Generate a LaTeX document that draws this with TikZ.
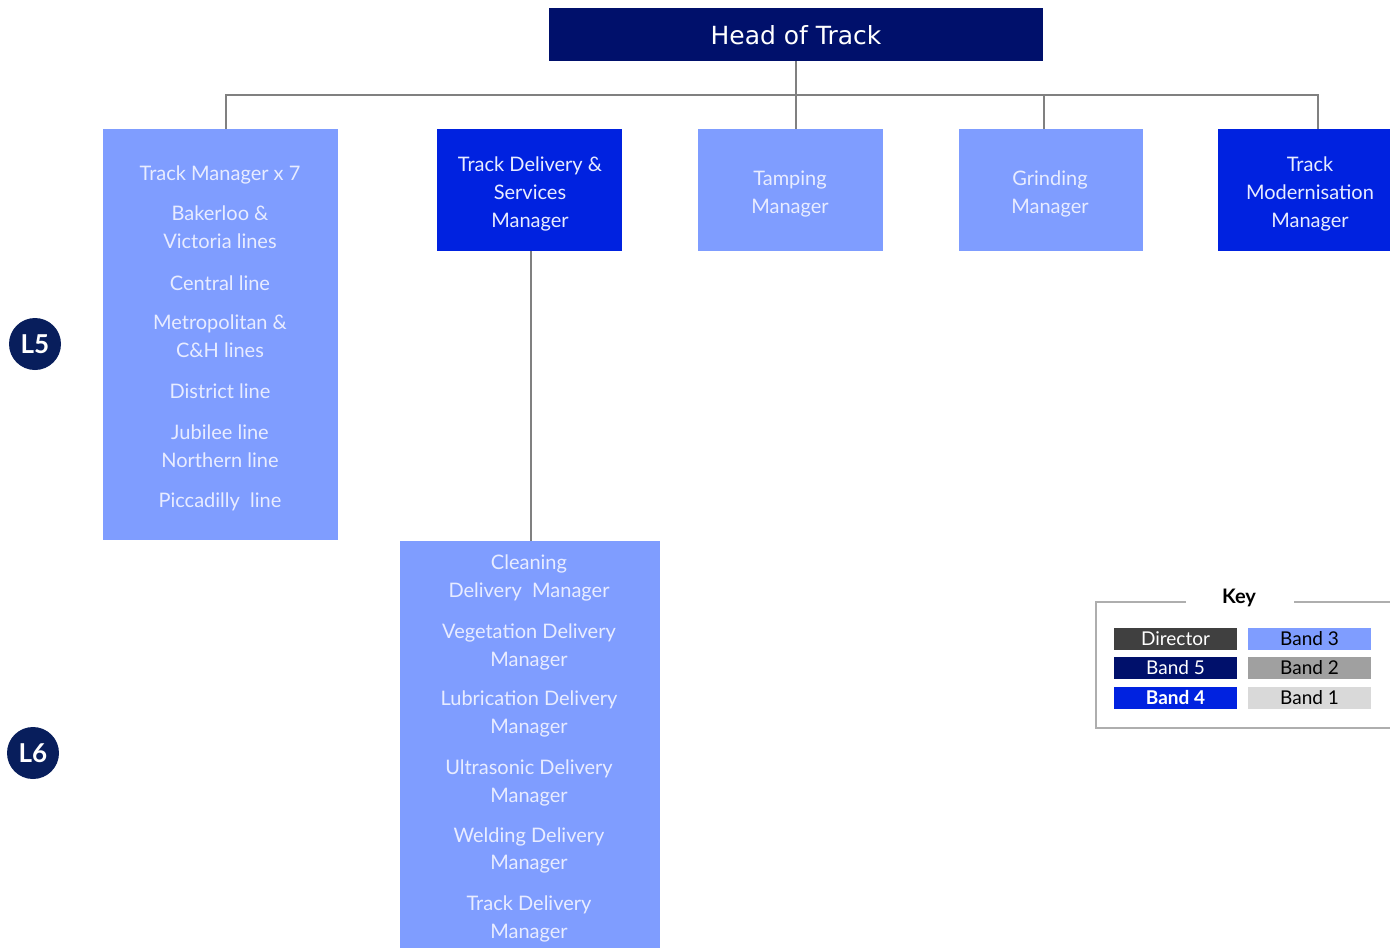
\documentclass[tikz,border=0pt]{standalone}
\usepackage{fontspec}
\setmainfont{Lato}
\newfontfamily\headfont{DejaVu Sans}
\definecolor{navy}{RGB}{0,16,107}
\definecolor{bandfour}{RGB}{0,34,224}
\definecolor{bandthree}{RGB}{127,157,255}
\definecolor{lighttxt}{RGB}{232,236,255}
\definecolor{circ}{RGB}{8,30,92}
\definecolor{dirgray}{RGB}{64,64,64}
\definecolor{bandtwo}{RGB}{160,160,160}
\definecolor{bandone}{RGB}{217,217,217}
\definecolor{conn}{RGB}{128,128,128}
\tikzset{
  box/.style={draw=none, inner sep=0pt},
  txt/.style={text=lighttxt, font=\fontsize{10}{12}\selectfont, inner sep=0pt, anchor=center, text height=8.5pt, text depth=1.3pt},
  keybox/.style={inner sep=0pt, minimum width=61.5pt, minimum height=11pt, text height=8pt, text depth=1.5pt, font=\fontsize{9.5}{11}\selectfont},
  lvl/.style={circle, fill=circ, minimum size=26pt, inner sep=0pt, text=white, font=\bfseries\fontsize{13}{14}\selectfont},
  line/.style={draw=conn, line width=0.75pt}
}
\begin{document}
\begin{tikzpicture}[x=0.5pt,y=-0.5pt]
\useasboundingbox (0,0) rectangle (1390,948);
% boxes
\fill[navy] (549,8) rectangle (1043,61);
\node[box] (head) at (796,34.5) {};
\node[text=white, font=\headfont\fontsize{12.5}{14}\selectfont, inner sep=0pt, text height=11pt, text depth=1.5pt] (headt) at (796,35) {Head of Track};
\fill[bandthree] (103,129) rectangle (338,540);
\fill[bandfour] (437,129) rectangle (622,251);
\fill[bandthree] (698,129) rectangle (883,251);
\fill[bandthree] (959,129) rectangle (1143,251);
\fill[bandfour] (1218,129) rectangle (1390,251);
\fill[bandthree] (400,541) rectangle (660,948);
\coordinate (hb) at (796,61);
\coordinate (b1) at (226,129);
\coordinate (b2b) at (531,251);
\coordinate (b3) at (796,129);
\coordinate (b4) at (1044,129);
\coordinate (b5) at (1318,129);
\coordinate (b6) at (531,541);
% connectors
\draw[line] (hb) -- (b3);
\draw[line] (b1) |- (796,95) -| (b5);
\draw[line] (b4) -- (1044,95);
\draw[line] (b2b) -- (b6);
% box 1 text
\node[txt] (t1a) at (220,173) {Track Manager x 7};
\node[txt] (t1b) at (220,213) {Bakerloo \&};
\node[txt] (t1c) at (220,241) {Victoria lines};
\node[txt] (t1d) at (220,283) {Central line};
\node[txt] (t1e) at (220,322) {Metropolitan \&};
\node[txt] (t1f) at (220,350) {C\&H lines};
\node[txt] (t1g) at (220,391) {District line};
\node[txt] (t1h) at (220,432) {Jubilee line};
\node[txt] (t1i) at (220,460) {Northern line};
\node[txt] (t1j) at (220,500) {Piccadilly\ \ line};
% box 2
\node[txt] (t2a) at (530,164) {Track Delivery \&};
\node[txt] (t2b) at (530,192) {Services};
\node[txt] (t2c) at (530,220) {Manager};
% box 3
\node[txt] (t3a) at (790,178) {Tamping};
\node[txt] (t3b) at (790,206) {Manager};
% box 4
\node[txt] (t4a) at (1050,178) {Grinding};
\node[txt] (t4b) at (1050,206) {Manager};
% box 5
\node[txt] (t5a) at (1310,164) {Track};
\node[txt] (t5b) at (1310,192) {Modernisation};
\node[txt] (t5c) at (1310,220) {Manager};
% box 6
\node[txt] (t6a) at (529,562) {Cleaning};
\node[txt] (t6b) at (529,590) {Delivery\ \ Manager};
\node[txt] (t6c) at (529,631) {Vegetation Delivery};
\node[txt] (t6d) at (529,659) {Manager};
\node[txt] (t6e) at (529,698) {Lubrication Delivery};
\node[txt] (t6f) at (529,726) {Manager};
\node[txt] (t6g) at (529,767) {Ultrasonic Delivery};
\node[txt] (t6h) at (529,795) {Manager};
\node[txt] (t6i) at (529,835) {Welding Delivery};
\node[txt] (t6j) at (529,862) {Manager};
\node[txt] (t6k) at (529,903) {Track Delivery};
\node[txt] (t6l) at (529,931) {Manager};
% level circles
\node[lvl] (l5) at (35,344) {L5};
\node[lvl] (l6) at (33,753) {L6};
% key
\draw[draw=bandone!80!black, line width=0.6pt] (1186,602) -- (1096,602) -- (1096,728) -- (1390,728);
\draw[draw=bandone!80!black, line width=0.6pt] (1294,602) -- (1390,602);
\node[font=\bfseries\fontsize{10}{12}\selectfont, inner sep=0pt, text height=8.5pt, text depth=1.5pt] (keyt) at (1239,596) {Key};
\node[keybox, fill=dirgray, text=white] (k1) at (1175.5,639) {Director};
\node[keybox, fill=navy, text=white] (k2) at (1175.5,668) {Band 5};
\node[keybox, fill=bandfour, text=white, font=\bfseries\fontsize{9.5}{11}\selectfont] (k3) at (1175.5,697.5) {Band 4};
\node[keybox, fill=bandthree, text=black] (k4) at (1309.5,639) {Band 3};
\node[keybox, fill=bandtwo, text=black] (k5) at (1309.5,668) {Band 2};
\node[keybox, fill=bandone, text=black] (k6) at (1309.5,697.5) {Band 1};
\end{tikzpicture}
\end{document}
